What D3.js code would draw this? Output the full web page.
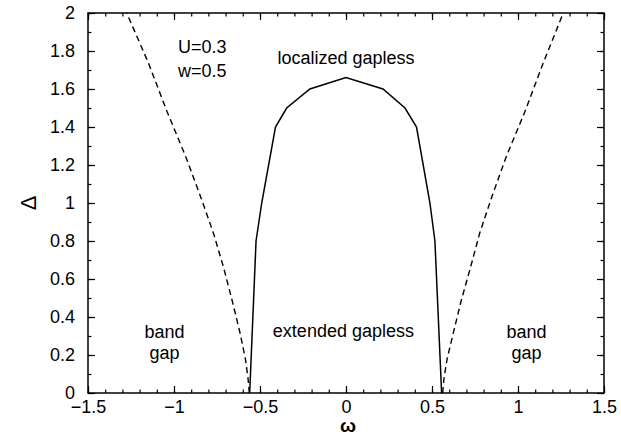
<!DOCTYPE html>
<html>
<head>
<meta charset="utf-8">
<script src="https://cdn.jsdelivr.net/npm/d3@7"></script>
<style>
  body { margin: 0; background: #fff; }
  text { font-family: "Liberation Sans", Arial, sans-serif; fill: #000; }
</style>
</head>
<body>
<div id="chart"></div>
<script>
// solid line: boundary between localized and extended gapless
var solidOmega = [-0.56, -0.523, -0.49, -0.41, -0.345, -0.21, 0, 0.215, 0.343, 0.41, 0.488, 0.517, 0.556];
var solidDelta = [0, 0.8, 1.0, 1.4, 1.5, 1.6, 1.66, 1.6, 1.5, 1.4, 1.0, 0.8, 0];

// dashed lines: band edges
var leftOmega = [-0.562, -0.57, -0.585, -0.616, -0.66, -0.713, -0.77, -0.84, -0.93, -1.04, -1.15, -1.275];
var leftDelta = [0, 0.08, 0.18, 0.316, 0.48, 0.665, 0.84, 1.02, 1.24, 1.48, 1.74, 2.0];
var rightOmega = [0.562, 0.57, 0.588, 0.624, 0.668, 0.725, 0.777, 0.843, 0.93, 1.04, 1.148, 1.263];
var rightDelta = [0, 0.08, 0.18, 0.316, 0.48, 0.665, 0.84, 1.02, 1.24, 1.48, 1.74, 2.0];

var xTicks = [-1.5, -1, -0.5, 0, 0.5, 1, 1.5];
var yTicks = [0, 0.2, 0.4, 0.6, 0.8, 1, 1.2, 1.4, 1.6, 1.8, 2];

var labels = [
  { text: "U=0.3", w: -0.835, d: 1.79 },
  { text: "w=0.5", w: -0.835, d: 1.665 },
  { text: "localized gapless", w: 0, d: 1.73 },
  { text: "extended gapless", w: -0.015, d: 0.295 },
  { text: "band", w: -1.055, d: 0.29 },
  { text: "gap", w: -1.055, d: 0.18 },
  { text: "band", w: 1.05, d: 0.29 },
  { text: "gap", w: 1.05, d: 0.18 }
];

var width = 621, height = 440;
var margin = { top: 13, right: 17, bottom: 47, left: 88 };
var w = width - margin.left - margin.right;
var h = height - margin.top - margin.bottom;

var x = d3.scaleLinear().domain([-1.5, 1.5]).range([0, w]);
var y = d3.scaleLinear().domain([0, 2]).range([h, 0]);

var svg = d3.select("#chart").append("svg")
  .attr("width", width)
  .attr("height", height)
  .append("g")
  .attr("transform", "translate(" + margin.left + "," + margin.top + ")");

var fmt = function(d) { return d3.format("")(d).replace("-", "\u2212"); };
var xMinor = d3.range(-15, 16).map(function(i) { return i / 10; });
var yMinor = d3.range(0, 21).map(function(i) { return i / 10; });
var major = 7, minor = 3.5;

// ticks on all four sides, pointing inward
svg.append("g").attr("transform", "translate(0," + h + ")")
  .call(d3.axisBottom(x).tickValues(xMinor).tickSize(-minor).tickFormat(""));
svg.append("g").attr("transform", "translate(0," + h + ")")
  .call(d3.axisBottom(x).tickValues(xTicks).tickSize(-major).tickPadding(7).tickFormat(fmt))
  .selectAll("text").style("font-size", "18px");
svg.append("g")
  .call(d3.axisTop(x).tickValues(xMinor).tickSize(-minor).tickFormat(""));
svg.append("g")
  .call(d3.axisTop(x).tickValues(xTicks).tickSize(-major).tickFormat(""));

svg.append("g")
  .call(d3.axisLeft(y).tickValues(yMinor).tickSize(-minor).tickFormat(""));
svg.append("g")
  .call(d3.axisLeft(y).tickValues(yTicks).tickSize(-major).tickPadding(13).tickFormat(fmt))
  .selectAll("text").style("font-size", "18px");
svg.append("g").attr("transform", "translate(" + w + ",0)")
  .call(d3.axisRight(y).tickValues(yMinor).tickSize(-minor).tickFormat(""));
svg.append("g").attr("transform", "translate(" + w + ",0)")
  .call(d3.axisRight(y).tickValues(yTicks).tickSize(-major).tickFormat(""));

svg.selectAll(".domain").remove();
svg.selectAll(".tick line").attr("stroke", "#000").attr("stroke-width", 1.2);

svg.append("rect")
  .attr("width", w).attr("height", h)
  .attr("fill", "none").attr("stroke", "#000").attr("stroke-width", 1.5);

var line = d3.line()
  .x(function(d) { return x(d[0]); })
  .y(function(d) { return y(d[1]); });

var zip = function(a, b) { return a.map(function(v, i) { return [v, b[i]]; }); };

svg.append("path")
  .datum(zip(solidOmega, solidDelta))
  .attr("d", line)
  .attr("fill", "none").attr("stroke", "#000").attr("stroke-width", 1.5);

[zip(leftOmega, leftDelta), zip(rightOmega, rightDelta)].forEach(function(pts) {
  svg.append("path")
    .datum(pts)
    .attr("d", line)
    .attr("fill", "none").attr("stroke", "#000").attr("stroke-width", 1.4)
    .attr("stroke-dasharray", "6,4");
});

svg.selectAll(".lbl")
  .data(labels)
  .enter().append("text")
  .attr("class", "lbl")
  .attr("x", function(d) { return x(d.w); })
  .attr("y", function(d) { return y(d.d); })
  .attr("text-anchor", "middle")
  .style("font-size", "18px")
  .text(function(d) { return d.text; });

svg.append("text")
  .attr("x", w / 2 + 2)
  .attr("y", h + 39)
  .attr("text-anchor", "middle")
  .style("font-size", "19px")
  .style("font-weight", "bold")
  .text("\u03c9");

svg.append("text")
  .attr("transform", "translate(" + (-52) + "," + (h / 2) + ") rotate(-90)")
  .attr("text-anchor", "middle")
  .style("font-size", "22px")
  .text("\u0394");
</script>
</body>
</html>
